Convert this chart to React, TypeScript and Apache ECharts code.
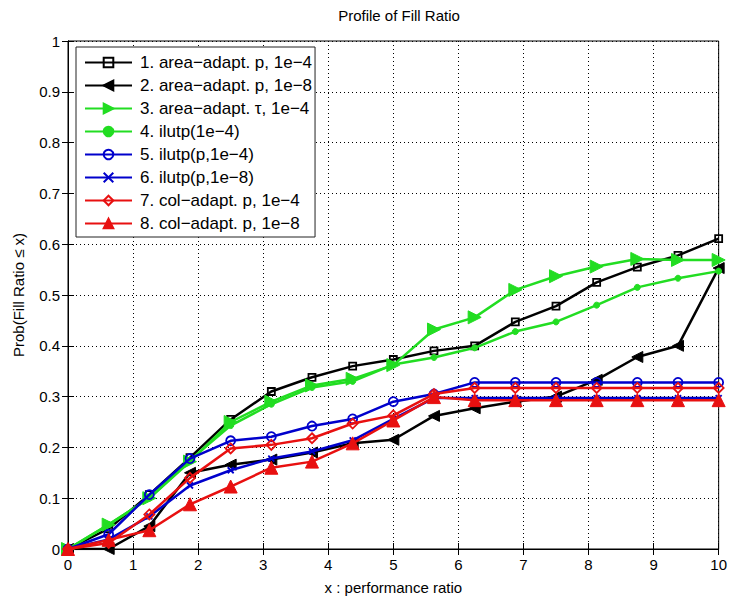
import React, { useEffect, useRef } from "react";
import * as echarts from "echarts";

const xValues = [0, 0.625, 1.25, 1.875, 2.5, 3.125, 3.75, 4.375, 5, 5.625, 6.25, 6.875, 7.5, 8.125, 8.75, 9.375, 10];

const s1 = [0, 0.04, 0.107, 0.18, 0.255, 0.31, 0.338, 0.36, 0.373, 0.39, 0.4, 0.447, 0.478, 0.525, 0.555, 0.578, 0.611];
const s2 = [0, 0, 0.045, 0.15, 0.166, 0.176, 0.19, 0.208, 0.215, 0.262, 0.277, 0.29, 0.3, 0.333, 0.378, 0.4, 0.553];
const s3 = [0, 0.048, 0.1, 0.172, 0.25, 0.29, 0.322, 0.335, 0.362, 0.432, 0.456, 0.51, 0.537, 0.556, 0.571, 0.569, 0.569];
const s4 = [0, 0.048, 0.1, 0.175, 0.243, 0.285, 0.318, 0.33, 0.363, 0.377, 0.396, 0.428, 0.447, 0.48, 0.515, 0.533, 0.547];
const s5 = [0, 0.029, 0.107, 0.178, 0.213, 0.221, 0.242, 0.256, 0.29, 0.305, 0.328, 0.328, 0.328, 0.328, 0.328, 0.328, 0.328];
const s6 = [0, 0.019, 0.064, 0.125, 0.155, 0.178, 0.192, 0.214, 0.256, 0.297, 0.297, 0.297, 0.297, 0.297, 0.297, 0.297, 0.297];
const s7 = [0, 0.012, 0.068, 0.14, 0.198, 0.205, 0.218, 0.247, 0.263, 0.305, 0.317, 0.317, 0.317, 0.317, 0.317, 0.317, 0.317];
const s8 = [0, 0.018, 0.037, 0.088, 0.123, 0.16, 0.172, 0.208, 0.253, 0.299, 0.293, 0.293, 0.293, 0.293, 0.293, 0.293, 0.293];

const seriesNames = [
  "1. area\u2212adapt. p, 1e\u22124",
  "2. area\u2212adapt. p, 1e\u22128",
  "3. area\u2212adapt. \u03c4, 1e\u22124",
  "4. ilutp(1e\u22124)",
  "5. ilutp(p,1e\u22124)",
  "6. ilutp(p,1e\u22128)",
  "7. col\u2212adapt. p, 1e\u22124",
  "8. col\u2212adapt. p, 1e\u22128",
];

const BLACK = "#000000";
const GREEN = "#22dd22";
const BLUE = "#0000cc";
const RED = "#e81010";
const FONT = "Liberation Sans, Arial, Helvetica, sans-serif";

export default function App() {
  const ref = useRef<HTMLDivElement>(null);
  useEffect(() => {
    if (!ref.current) return;
    const chart = echarts.init(ref.current, null, { renderer: "svg" });
    const data = [s1, s2, s3, s4, s5, s6, s7, s8];
    const styles = [
      { color: BLACK, symbol: "rect", size: 7, rotate: 0, open: true },
      { color: BLACK, symbol: "triangle", size: 11, rotate: 90, open: false },
      { color: GREEN, symbol: "triangle", size: 13, rotate: -90, open: false },
      { color: GREEN, symbol: "circle", size: 6, rotate: 0, open: false },
      { color: BLUE, symbol: "circle", size: 9, rotate: 0, open: true },
      { color: BLUE, symbol: "path://M0,0L10,10M10,0L0,10", size: 6, rotate: 0, open: true },
      { color: RED, symbol: "diamond", size: 10, rotate: 0, open: true },
      { color: RED, symbol: "triangle", size: 13, rotate: 0, open: false },
    ];
    const series = data.map((d, i) => {
      const st = styles[i];
      return {
        name: seriesNames[i],
        type: "line",
        data: d.map((v, j) => [xValues[j], v]),
        symbol: st.symbol,
        symbolSize: st.size,
        symbolRotate: st.rotate,
        showAllSymbol: true,
        lineStyle: { color: st.color, width: 2.5 },
        itemStyle: st.open
          ? { color: "rgba(255,255,255,0)", borderColor: st.color, borderWidth: 1.8 }
          : { color: st.color, borderColor: st.color, borderWidth: 1 },
        emphasis: { disabled: true },
        z: 2 + i,
      };
    });
    const gridLine = { show: true, lineStyle: { color: "#000", type: [1, 3], width: 1 } };
    chart.setOption({
      animation: false,
      title: {
        text: "Profile of Fill Ratio",
        left: 394,
        textAlign: "center",
        top: 3,
        textStyle: { fontFamily: FONT, fontSize: 15, fontWeight: "normal", color: "#000" },
      },
      legend: {
        orient: "vertical",
        left: 76,
        top: 47,
        padding: [7, 3, 5, 8],
        itemWidth: 47,
        itemHeight: 12,
        itemGap: 6,
        backgroundColor: "#fff",
        borderColor: "#222",
        borderWidth: 1,
        textStyle: { fontFamily: FONT, fontSize: 17, color: "#000", padding: [0, 0, 0, 3] },
        data: seriesNames,
        z: 10,
      },
      grid: { left: 68, right: 10, top: 41, bottom: 47, show: true, borderColor: "#000", borderWidth: 1, backgroundColor: "#fff" },
      xAxis: [
        {
          type: "value",
          min: 0,
          max: 10,
          interval: 1,
          name: "x : performance ratio",
          nameLocation: "middle",
          nameGap: 31,
          nameTextStyle: { fontFamily: FONT, fontSize: 15, color: "#000" },
          axisLine: { show: true, lineStyle: { color: "#000", width: 1 } },
          axisTick: { show: true, inside: true, length: 6, lineStyle: { color: "#000" } },
          axisLabel: { fontFamily: FONT, fontSize: 15, color: "#000", margin: 8 },
          splitLine: gridLine,
        },
        {
          type: "value",
          position: "top",
          min: 0,
          max: 10,
          interval: 1,
          axisLine: { show: true, lineStyle: { color: "#000", width: 1 } },
          axisTick: { show: true, inside: true, length: 6, lineStyle: { color: "#000" } },
          axisLabel: { show: false },
          splitLine: { show: false },
        },
      ],
      yAxis: [
        {
          type: "value",
          min: 0,
          max: 1,
          interval: 0.1,
          name: "Prob(Fill Ratio \u2264 x)",
          nameLocation: "middle",
          nameGap: 42,
          nameRotate: 90,
          nameTextStyle: { fontFamily: FONT, fontSize: 15, color: "#000" },
          axisLine: { show: true, lineStyle: { color: "#000", width: 1 } },
          axisTick: { show: true, inside: true, length: 6, lineStyle: { color: "#000" } },
          axisLabel: { fontFamily: FONT, fontSize: 15, color: "#000", margin: 8 },
          splitLine: gridLine,
        },
        {
          type: "value",
          position: "right",
          min: 0,
          max: 1,
          interval: 0.1,
          axisLine: { show: true, lineStyle: { color: "#000", width: 1 } },
          axisTick: { show: true, inside: true, length: 6, lineStyle: { color: "#000" } },
          axisLabel: { show: false },
          splitLine: { show: false },
        },
      ],
      series,
    });
    return () => chart.dispose();
  }, []);
  return (
    <div
      ref={ref}
      style={{ position: "fixed", left: 0, top: 0, width: 730, height: 600, background: "#fff" }}
    />
  );
}
